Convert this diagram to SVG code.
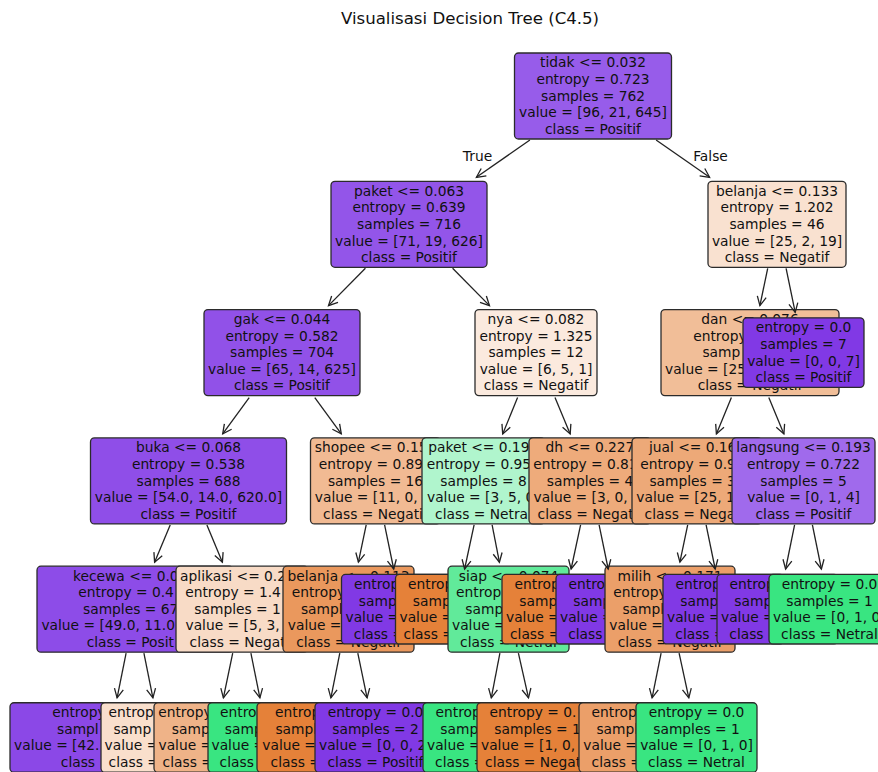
<svg xmlns="http://www.w3.org/2000/svg" width="878" height="772" viewBox="0 0 878 772">
<defs>
<style>
.b{stroke:#2b2b2b;stroke-width:1.3}
.t{font-family:"DejaVu Sans","Liberation Sans",sans-serif;font-size:13.8px;fill:#111;text-anchor:middle}
.s{text-anchor:start}
.ttl{font-family:"DejaVu Sans","Liberation Sans",sans-serif;font-size:16.6px;fill:#111;text-anchor:middle}
.e{stroke:#222;stroke-width:1.3;fill:none}
</style>
<marker id="ah" markerUnits="userSpaceOnUse" markerWidth="12" markerHeight="12" refX="10" refY="6" orient="auto" viewBox="0 0 12 12">
<path d="M1,1.5 L10,6 L1,10.5" fill="none" stroke="#222" stroke-width="1.3"/>
</marker>
</defs>
<rect width="878" height="772" fill="#ffffff"/>
<text class="ttl" x="470" y="24">Visualisasi Decision Tree (C4.5)</text>

<g id="n-root"><rect class="b" x="514.5" y="53" width="157" height="86" rx="4" fill="#975cea"/>
<text class="t" x="593" y="67.4">tidak &lt;= 0.032</text><text class="t" x="593" y="84">entropy = 0.723</text><text class="t" x="593" y="100.6">samples = 762</text><text class="t" x="593" y="117.2">value = [96, 21, 645]</text><text class="t" x="593" y="133.8">class = Positif</text></g>

<g id="n-paket"><rect class="b" x="331" y="181.3" width="156" height="86" rx="4" fill="#9355e9"/>
<text class="t" x="409" y="195.7">paket &lt;= 0.063</text><text class="t" x="409" y="212.3">entropy = 0.639</text><text class="t" x="409" y="228.9">samples = 716</text><text class="t" x="409" y="245.5">value = [71, 19, 626]</text><text class="t" x="409" y="262.1">class = Positif</text></g>

<g id="n-gak"><rect class="b" x="204" y="309.6" width="156" height="86" rx="4" fill="#9151e8"/>
<text class="t" x="282" y="324">gak &lt;= 0.044</text><text class="t" x="282" y="340.6">entropy = 0.582</text><text class="t" x="282" y="357.2">samples = 704</text><text class="t" x="282" y="373.8">value = [65, 14, 625]</text><text class="t" x="282" y="390.4">class = Positif</text></g>

<g id="n-buka"><rect class="b" x="90.5" y="437.9" width="196" height="86" rx="4" fill="#8f4ee8"/>
<text class="t" x="188.5" y="452.3">buka &lt;= 0.068</text><text class="t" x="188.5" y="468.9">entropy = 0.538</text><text class="t" x="188.5" y="485.5">samples = 688</text><text class="t" x="188.5" y="502.1">value = [54.0, 14.0, 620.0]</text><text class="t" x="188.5" y="518.7">class = Positif</text></g>

<g id="n-kecewa"><rect class="b" x="37" y="566.2" width="196" height="86" rx="4" fill="#8d4ce8"/>
<text class="t s" x="73" y="580.6">kecewa &lt;= 0.0</text><text class="t s" x="78.2" y="597.2">entropy = 0.4</text><text class="t s" x="83" y="613.8">samples = 67</text><text class="t s" x="41.4" y="630.4">value = [49.0, 11.0</text><text class="t s" x="86.7" y="647">class = Posit</text></g>

<g id="n-leafA"><rect class="b" x="10" y="702.75" width="198" height="69.5" rx="4" fill="#8b48e7"/>
<text class="t s" x="52.2" y="717.2">entropy</text><text class="t s" x="57" y="733.8">sampl</text><text class="t s" x="14.1" y="750.4">value = [42.</text><text class="t s" x="60.8" y="767">class</text></g>

<g id="n-leafB"><rect class="b" x="101" y="702.75" width="120" height="69.5" rx="4" fill="#f9dfcc"/>
<text class="t s" x="108.6" y="717.2">entrop</text><text class="t s" x="113.4" y="733.8">samp</text><text class="t s" x="104.6" y="750.4">value =</text><text class="t s" x="108.6" y="767">class =</text></g>

<g id="n-aplikasi"><rect class="b" x="176" y="566.2" width="132" height="86" rx="4" fill="#f8dbc6"/>
<text class="t s" x="180.1" y="580.6">aplikasi &lt;= 0.2</text><text class="t s" x="185.2" y="597.2">entropy = 1.4</text><text class="t s" x="194.3" y="613.8">samples = 1</text><text class="t s" x="185.5" y="630.4">value = [5, 3,</text><text class="t s" x="189.6" y="647">class = Negat</text></g>

<g id="n-leafC"><rect class="b" x="154" y="702.75" width="122" height="69.5" rx="4" fill="#efb388"/>
<text class="t s" x="158.2" y="717.2">entropy</text><text class="t s" x="171.8" y="733.8">samp</text><text class="t s" x="158.5" y="750.4">value =</text><text class="t s" x="162.6" y="767">class =</text></g>

<g id="n-leafD"><rect class="b" x="208" y="702.75" width="121" height="69.5" rx="4" fill="#39e581"/>
<text class="t s" x="220" y="717.2">entro</text><text class="t s" x="224.8" y="733.8">samp</text><text class="t s" x="211.5" y="750.4">value =</text><text class="t s" x="219.6" y="767">class</text></g>

<g id="n-shopee"><rect class="b" x="310.5" y="437.9" width="130" height="86" rx="4" fill="#f1ba93"/>
<text class="t s" x="314.8" y="452.3">shopee &lt;= 0.15</text><text class="t s" x="318.7" y="468.9">entropy = 0.89</text><text class="t s" x="327.9" y="485.5">samples = 16</text><text class="t s" x="314.8" y="502.1">value = [11, 0, 5</text><text class="t s" x="323.1" y="518.7">class = Negati</text></g>

<g id="n-belanja4"><rect class="b" x="283" y="566.2" width="131" height="86" rx="4" fill="#ea985d"/>
<text class="t" x="348.5" y="580.6">belanja &lt;= 0.113</text><text class="t s" x="291.7" y="597.2">entropy</text><text class="t s" x="300.9" y="613.8">sampl</text><text class="t s" x="287.8" y="630.4">value =</text><text class="t" x="348.5" y="647">class = Negatif</text></g>

<g id="n-leafE"><rect class="b" x="257" y="702.75" width="132" height="69.5" rx="4" fill="#e58139"/>
<text class="t s" x="275" y="717.2">entrop</text><text class="t s" x="275.4" y="733.8">sampl</text><text class="t s" x="262.3" y="750.4">value =</text><text class="t s" x="270.6" y="767">class =</text></g>

<g id="n-leafF"><rect class="b" x="315" y="702.75" width="121" height="69.5" rx="4" fill="#8139e5"/>
<text class="t" x="375.5" y="717.2">entropy = 0.0</text><text class="t" x="375.5" y="733.8">samples = 2</text><text class="t s" x="319" y="750.4">value = [0, 0, 2</text><text class="t" x="375.5" y="767">class = Positif</text></g>

<g id="n-purple1"><rect class="b" x="341.5" y="574.45" width="121" height="69.5" rx="4" fill="#8139e5"/>
<text class="t s" x="354" y="588.9">entrop</text><text class="t s" x="358.8" y="605.5">samp</text><text class="t s" x="345.5" y="622.1">value =</text><text class="t s" x="353.8" y="638.7">class =</text></g>

<g id="n-nya"><rect class="b" x="475" y="309.6" width="122" height="86" rx="4" fill="#fbeade"/>
<text class="t" x="536" y="324">nya &lt;= 0.082</text><text class="t" x="536" y="340.6">entropy = 1.325</text><text class="t" x="536" y="357.2">samples = 12</text><text class="t" x="536" y="373.8">value = [6, 5, 1]</text><text class="t" x="536" y="390.4">class = Negatif</text></g>

<g id="n-paket2"><rect class="b" x="422" y="437.9" width="123" height="86" rx="4" fill="#b0f5cd"/>
<text class="t s" x="428.2" y="452.3">paket &lt;= 0.19</text><text class="t s" x="426.7" y="468.9">entropy = 0.95</text><text class="t" x="483.5" y="485.5">samples = 8</text><text class="t s" x="427" y="502.1">value = [3, 5, 0</text><text class="t s" x="435.1" y="518.7">class = Netral</text></g>

<g id="n-orange2"><rect class="b" x="395.5" y="574.45" width="121" height="69.5" rx="4" fill="#e58139"/>
<text class="t s" x="408" y="588.9">entrop</text><text class="t s" x="412.8" y="605.5">samp</text><text class="t s" x="399.5" y="622.1">value =</text><text class="t s" x="403.6" y="638.7">class =</text></g>

<g id="n-siap"><rect class="b" x="448" y="566.2" width="121" height="86" rx="4" fill="#61ea9a"/>
<text class="t" x="508.5" y="580.6">siap &lt;= 0.074</text><text class="t s" x="456.1" y="597.2">entrop</text><text class="t s" x="465.3" y="613.8">samp</text><text class="t s" x="452" y="630.4">value =</text><text class="t" x="508.5" y="647">class = Netral</text></g>

<g id="n-leafG"><rect class="b" x="423" y="702.75" width="121" height="69.5" rx="4" fill="#39e581"/>
<text class="t s" x="435.5" y="717.2">entrop</text><text class="t s" x="440.3" y="733.8">samp</text><text class="t s" x="427" y="750.4">value =</text><text class="t s" x="435.1" y="767">class =</text></g>

<g id="n-leafH"><rect class="b" x="477" y="702.75" width="121" height="69.5" rx="4" fill="#e58139"/>
<text class="t s" x="489.5" y="717.2">entropy = 0.</text><text class="t s" x="494.3" y="733.8">samples = 1</text><text class="t s" x="481" y="750.4">value = [1, 0,</text><text class="t s" x="485.1" y="767">class = Negat</text></g>

<g id="n-dh"><rect class="b" x="529" y="437.9" width="122" height="86" rx="4" fill="#eeab7b"/>
<text class="t s" x="545.5" y="452.3">dh &lt;= 0.227</text><text class="t s" x="533.2" y="468.9">entropy = 0.81</text><text class="t s" x="546.8" y="485.5">samples = 4</text><text class="t s" x="533.5" y="502.1">value = [3, 0,</text><text class="t s" x="537.6" y="518.7">class = Negat</text></g>

<g id="n-orange3"><rect class="b" x="502" y="574.45" width="121" height="69.5" rx="4" fill="#e58139"/>
<text class="t s" x="514.5" y="588.9">entrop</text><text class="t s" x="519.3" y="605.5">samp</text><text class="t s" x="506" y="622.1">value =</text><text class="t s" x="510" y="638.7">class =</text></g>

<g id="n-purple4"><rect class="b" x="556" y="574.45" width="121" height="69.5" rx="4" fill="#8139e5"/>
<text class="t s" x="568.5" y="588.9">entro</text><text class="t s" x="573.3" y="605.5">samp</text><text class="t s" x="560" y="622.1">value =</text><text class="t s" x="568.2" y="638.7">class</text></g>

<g id="n-belanja1"><rect class="b" x="708" y="181.3" width="138" height="86" rx="4" fill="#f9e1d0"/>
<text class="t" x="777" y="195.7">belanja &lt;= 0.133</text><text class="t" x="777" y="212.3">entropy = 1.202</text><text class="t" x="777" y="228.9">samples = 46</text><text class="t" x="777" y="245.5">value = [25, 2, 19]</text><text class="t" x="777" y="262.1">class = Negatif</text></g>

<g id="n-dan"><rect class="b" x="661" y="309.6" width="178" height="86" rx="4" fill="#f1be98"/>
<text class="t" x="750" y="324">dan &lt;= 0.076</text><text class="t s" x="693.2" y="340.6">entropy</text><text class="t s" x="702.4" y="357.2">samp</text><text class="t s" x="665" y="373.8">value = [25</text><text class="t" x="750" y="390.4">class = Negatif</text></g>

<g id="n-jual"><rect class="b" x="632" y="437.9" width="130" height="86" rx="4" fill="#eda978"/>
<text class="t s" x="648.9" y="452.3">jual &lt;= 0.16</text><text class="t s" x="640.2" y="468.9">entropy = 0.9</text><text class="t s" x="649.4" y="485.5">samples = 3</text><text class="t s" x="636.3" y="502.1">value = [25, 1</text><text class="t s" x="644.6" y="518.7">class = Nega</text></g>

<g id="n-milih"><rect class="b" x="605" y="566.2" width="130" height="86" rx="4" fill="#eb9f69"/>
<text class="t" x="670" y="580.6">milih &lt;= 0.171</text><text class="t s" x="613.2" y="597.2">entropy</text><text class="t s" x="622.4" y="613.8">sampl</text><text class="t s" x="609.3" y="630.4">value =</text><text class="t" x="670" y="647">class = Negatif</text></g>

<g id="n-leafI"><rect class="b" x="579" y="702.75" width="130" height="69.5" rx="4" fill="#eb9f69"/>
<text class="t s" x="591.6" y="717.2">entrop</text><text class="t s" x="596.4" y="733.8">sampl</text><text class="t s" x="583.3" y="750.4">value =</text><text class="t s" x="591.6" y="767">class =</text></g>

<g id="n-leafJ"><rect class="b" x="636" y="702.75" width="121" height="69.5" rx="4" fill="#39e581"/>
<text class="t" x="696.5" y="717.2">entropy = 0.0</text><text class="t" x="696.5" y="733.8">samples = 1</text><text class="t" x="696.5" y="750.4">value = [0, 1, 0]</text><text class="t" x="696.5" y="767">class = Netral</text></g>

<g id="n-purple5"><rect class="b" x="663" y="574.45" width="121" height="69.5" rx="4" fill="#8139e5"/>
<text class="t s" x="675.5" y="588.9">entrop</text><text class="t s" x="680.3" y="605.5">samp</text><text class="t s" x="667" y="622.1">value =</text><text class="t s" x="675.3" y="638.7">class =</text></g>

<g id="n-langsung"><rect class="b" x="732" y="437.9" width="143" height="86" rx="4" fill="#a06aec"/>
<text class="t" x="803.5" y="452.3">langsung &lt;= 0.193</text><text class="t" x="803.5" y="468.9">entropy = 0.722</text><text class="t" x="803.5" y="485.5">samples = 5</text><text class="t" x="803.5" y="502.1">value = [0, 1, 4]</text><text class="t" x="803.5" y="518.7">class = Positif</text></g>

<g id="n-purple6"><rect class="b" x="717" y="574.45" width="121" height="69.5" rx="4" fill="#8139e5"/>
<text class="t s" x="729.5" y="588.9">entrop</text><text class="t s" x="734.3" y="605.5">samp</text><text class="t s" x="721" y="622.1">value =</text><text class="t s" x="729.3" y="638.7">class</text></g>

<g id="n-green7"><rect class="b" x="769" y="574.45" width="121" height="69.5" rx="4" fill="#39e581"/>
<text class="t" x="829.5" y="588.9">entropy = 0.0</text><text class="t" x="829.5" y="605.5">samples = 1</text><text class="t s" x="773" y="622.1">value = [0, 1, 0</text><text class="t" x="829.5" y="638.7">class = Netral</text></g>

<g id="n-leaf7"><rect class="b" x="743" y="317.85" width="121" height="69.5" rx="4" fill="#8139e5"/>
<text class="t" x="803.5" y="332.3">entropy = 0.0</text><text class="t" x="803.5" y="348.9">samples = 7</text><text class="t" x="803.5" y="365.5">value = [0, 0, 7]</text><text class="t" x="803.5" y="382.1">class = Positif</text></g>

<g id="connectors">
<line class="e" marker-end="url(#ah)" x1="529.9" y1="140" x2="476.4" y2="177.3"/>
<line class="e" marker-end="url(#ah)" x1="656.1" y1="140" x2="709.6" y2="177.3"/>
<text class="t" x="477.5" y="161">True</text>
<text class="t" x="710.5" y="161">False</text>
<line class="e" marker-end="url(#ah)" x1="365.4" y1="268.3" x2="328.5" y2="305.6"/>
<line class="e" marker-end="url(#ah)" x1="452.6" y1="268.3" x2="489.5" y2="305.6"/>
<line class="e" marker-end="url(#ah)" x1="767.7" y1="268.3" x2="759.9" y2="305.6"/>
<line class="e" marker-end="url(#ah)" x1="786.1" y1="268.3" x2="795.2" y2="312.3"/>
<line class="e" marker-end="url(#ah)" x1="249.2" y1="397.6" x2="222.7" y2="433.9"/>
<line class="e" marker-end="url(#ah)" x1="314.8" y1="397.6" x2="341.3" y2="433.9"/>
<line class="e" marker-end="url(#ah)" x1="517.6" y1="397.6" x2="502.7" y2="433.9"/>
<line class="e" marker-end="url(#ah)" x1="555" y1="397.6" x2="570.2" y2="433.9"/>
<line class="e" marker-end="url(#ah)" x1="731.4" y1="397.6" x2="716.4" y2="433.9"/>
<line class="e" marker-end="url(#ah)" x1="768.8" y1="397.6" x2="783.9" y2="433.9"/>
<line class="e" marker-end="url(#ah)" x1="170.2" y1="524.9" x2="154.6" y2="562.2"/>
<line class="e" marker-end="url(#ah)" x1="206.9" y1="524.9" x2="222.4" y2="562.2"/>
<line class="e" marker-end="url(#ah)" x1="366.2" y1="524.9" x2="358.4" y2="562.2"/>
<line class="e" marker-end="url(#ah)" x1="384.6" y1="524.9" x2="393.7" y2="569"/>
<line class="e" marker-end="url(#ah)" x1="474.1" y1="524.9" x2="464.6" y2="569"/>
<line class="e" marker-end="url(#ah)" x1="492.1" y1="524.9" x2="499.4" y2="562.2"/>
<line class="e" marker-end="url(#ah)" x1="580.6" y1="524.9" x2="571.1" y2="569"/>
<line class="e" marker-end="url(#ah)" x1="599.1" y1="524.9" x2="608.2" y2="569"/>
<line class="e" marker-end="url(#ah)" x1="687.7" y1="524.9" x2="679.9" y2="562.2"/>
<line class="e" marker-end="url(#ah)" x1="706.1" y1="524.9" x2="715.2" y2="569"/>
<line class="e" marker-end="url(#ah)" x1="794.6" y1="524.9" x2="785.6" y2="569"/>
<line class="e" marker-end="url(#ah)" x1="812.4" y1="524.9" x2="821.4" y2="569"/>
<line class="e" marker-end="url(#ah)" x1="126.1" y1="653.2" x2="117.1" y2="697.8"/>
<line class="e" marker-end="url(#ah)" x1="143.9" y1="653.2" x2="152.9" y2="697.8"/>
<line class="e" marker-end="url(#ah)" x1="232.7" y1="653.2" x2="223.4" y2="697.8"/>
<line class="e" marker-end="url(#ah)" x1="250.9" y1="653.2" x2="259.9" y2="697.8"/>
<line class="e" marker-end="url(#ah)" x1="339.8" y1="653.2" x2="330.9" y2="697.8"/>
<line class="e" marker-end="url(#ah)" x1="357.8" y1="653.2" x2="367.1" y2="697.8"/>
<line class="e" marker-end="url(#ah)" x1="499.9" y1="653.2" x2="491.3" y2="697.8"/>
<line class="e" marker-end="url(#ah)" x1="518.4" y1="653.2" x2="528.5" y2="697.8"/>
<line class="e" marker-end="url(#ah)" x1="661.1" y1="653.2" x2="652.1" y2="697.8"/>
<line class="e" marker-end="url(#ah)" x1="679.1" y1="653.2" x2="688.8" y2="697.8"/>
</g>
</svg>
